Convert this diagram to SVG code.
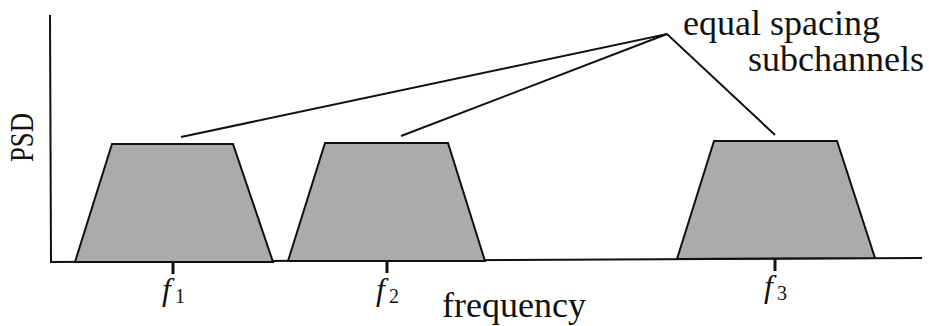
<svg xmlns="http://www.w3.org/2000/svg" width="929" height="326" viewBox="0 0 929 326">
<style>
.ax{stroke:#111;stroke-width:2;fill:none}
.tr{fill:#ababab;stroke:#111;stroke-width:2;stroke-linejoin:miter}
.ld{stroke:#111;stroke-width:2;fill:none}
.tk{stroke:#111;stroke-width:3}
.s{font-family:"Liberation Serif",serif;fill:#111}
.f{font-family:"Liberation Serif",serif;font-style:italic;fill:#111}
</style>
<rect width="929" height="326" fill="#fff"/>
<g id="axes">
<line class="ax" x1="50" y1="15" x2="51" y2="262"/>
<line class="ax" x1="50" y1="262" x2="922" y2="258"/>
<text class="s" font-size="34" transform="translate(33,162) rotate(-90)" textLength="49" lengthAdjust="spacingAndGlyphs">PSD</text>
<text class="s" font-size="36" x="442" y="317">frequency</text>
</g>
<g id="subchannel1">
<polygon class="tr" points="75,262 112,144 233,144 273,262"/>
<line class="tk" x1="173" y1="262" x2="173" y2="274"/>
<text class="f" font-size="32" x="162" y="300">f</text><text class="s" font-size="20" x="175" y="303">1</text>
</g>
<g id="subchannel2">
<polygon class="tr" points="288,261 325,143 448,143 485,261"/>
<line class="tk" x1="387" y1="261" x2="387" y2="273"/>
<text class="f" font-size="32" x="376" y="300">f</text><text class="s" font-size="20" x="389" y="303">2</text>
</g>
<g id="subchannel3">
<polygon class="tr" points="677,259 714,141 837,141 875,258"/>
<line class="tk" x1="775" y1="259" x2="775" y2="271"/>
<text class="f" font-size="32" x="764" y="297">f</text><text class="s" font-size="20" x="777" y="300">3</text>
</g>
<g id="label">
<text class="s" font-size="36" x="683" y="35">equal spacing</text>
<text class="s" font-size="36" x="748" y="71">subchannels</text>
</g>
<g id="connectors">
<polyline class="ld" points="181,137 667,34 775,135"/>
<line class="ld" x1="401" y1="136" x2="667" y2="34"/>
</g>
</svg>
